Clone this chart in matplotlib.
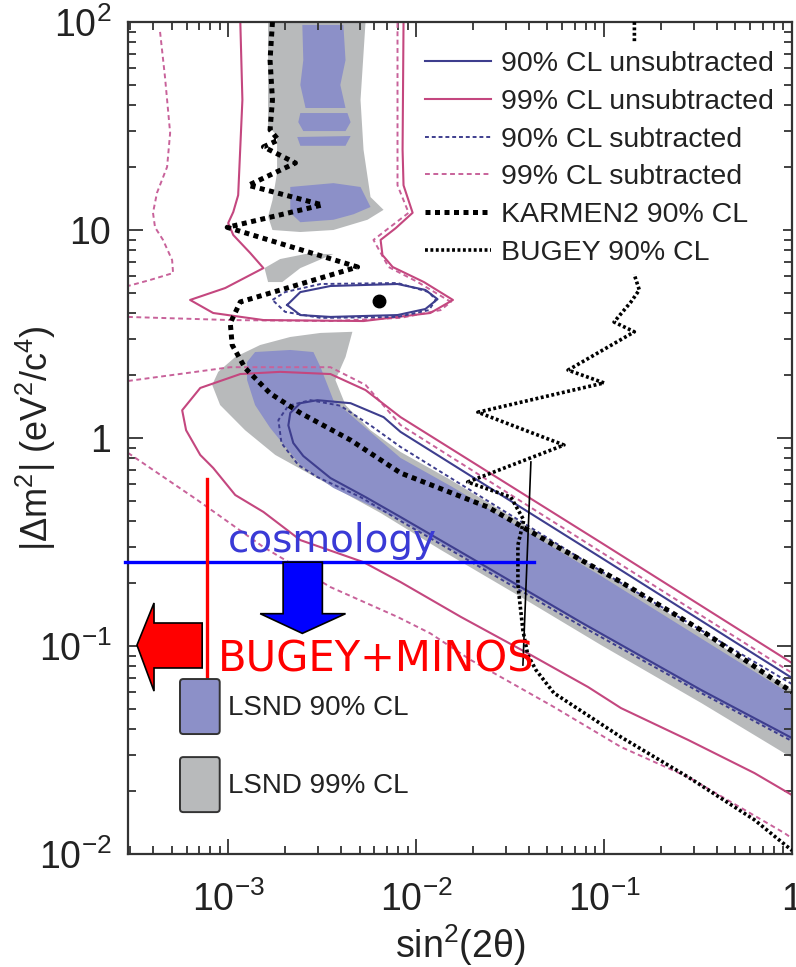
import numpy as np
import matplotlib
matplotlib.use("Agg")
import matplotlib.pyplot as plt
from matplotlib.patches import Patch, Polygon, FancyBboxPatch
from matplotlib.lines import Line2D
from matplotlib.legend_handler import HandlerPatch
from matplotlib.ticker import FixedLocator, FuncFormatter, LogLocator, NullFormatter

plt.rcParams['font.family'] = ['Liberation Sans', 'DejaVu Sans']
plt.rcParams['mathtext.fontset'] = 'custom'
plt.rcParams['mathtext.rm'] = 'Liberation Sans'
plt.rcParams['mathtext.it'] = 'Liberation Sans:italic'
plt.rcParams['mathtext.bf'] = 'Liberation Sans:bold'

# ---- LSND 99% CL (gray regions)
lsnd99_up_s2 = [1.63e-3, 1.63e-3, 1.82e-3, 1.82e-3, 1.72e-3, 1.63e-3, 1.72e-3, 2.42e-3,
                3.63e-3, 5.51e-3, 6.71e-3, 5.72e-3, 5.25e-3, 5.06e-3, 5.38e-3]
lsnd99_up_dm2 = [100, 31.3, 28.6, 18.8, 13.9, 11.6, 10.0, 9.78, 10.0, 11.2, 12.5, 14.4, 24.3, 42.2, 100]
lsnd99_mid_s2 = [1.56e-3, 1.89e-3, 2.58e-3, 3.63e-3, 2.42e-3, 1.94e-3, 1.63e-3]
lsnd99_mid_dm2 = [6.56, 7.25, 7.67, 7.67, 6.56, 5.62, 5.62]
lsnd99_lo_s2 = [1.0, 9.64e-2, 1.53e-2, 8.26e-3, 5.72e-3, 4.21e-3, 3.72e-3, 4.21e-3, 4.58e-3,
                3.10e-3, 2.14e-3, 1.48e-3, 1.09e-3, 8.85e-4, 8.22e-4, 9.06e-4, 1.23e-3, 1.78e-3,
                3.10e-3, 6.47e-3, 1.35e-2, 3.61e-2, 9.64e-2, 0.329, 1.0]
lsnd99_lo_dm2 = [0.0614, 0.229, 0.628, 0.857, 1.09, 1.44, 1.90, 2.45, 3.24, 3.20, 3.06, 2.80,
                 2.45, 2.08, 1.80, 1.44, 1.09, 0.829, 0.628, 0.436, 0.290, 0.172, 0.101, 0.0532, 0.029]

# ---- LSND 90% CL (blue regions)
lsnd90_up1_s2 = [2.48e-3, 4.10e-3, 4.21e-3, 3.95e-3, 4.21e-3, 2.58e-3, 2.42e-3, 2.51e-3]
lsnd90_up1_dm2 = [96.8, 96.8, 65.6, 49.8, 38.6, 38.6, 49.8, 65.6]
lsnd90_up2_s2 = [2.42e-3, 4.31e-3, 4.48e-3, 4.21e-3, 2.51e-3, 2.36e-3]
lsnd90_up2_dm2 = [36.5, 36.5, 33.0, 29.9, 29.9, 33.0]
lsnd90_up3_s2 = [2.33e-3, 4.48e-3, 4.21e-3, 2.42e-3]
lsnd90_up3_dm2 = [28.0, 28.3, 25.4, 25.4]
lsnd90_blob_s2 = [2.14e-3, 3.63e-3, 5.06e-3, 5.72e-3, 4.64e-3, 3.63e-3, 2.42e-3, 2.14e-3]
lsnd90_blob_dm2 = [16.1, 16.8, 16.1, 12.9, 11.9, 11.2, 10.9, 12.1]
lsnd90_lo_s2 = [1.0, 9.64e-2, 1.53e-2, 8.26e-3, 5.38e-3, 3.63e-3, 3.10e-3, 2.84e-3, 2.14e-3,
                1.39e-3, 1.26e-3, 1.26e-3, 1.39e-3, 1.67e-3, 2.42e-3, 3.63e-3, 8.26e-3,
                1.73e-2, 7.54e-2, 0.329, 1.0]
lsnd90_lo_dm2 = [0.0581, 0.217, 0.587, 0.802, 1.12, 1.52, 2.19, 2.59, 2.65, 2.59, 2.32, 1.90,
                 1.44, 1.12, 0.742, 0.575, 0.403, 0.274, 0.128, 0.0601, 0.0353]

# ---- 99% CL unsubtracted (pink solid)
p99u_up_s2 = [1.16e-3, 1.19e-3, 1.13e-3, 1.064e-3, 1.0e-3, 1.064e-3, 1.31e-3, 1.54e-3, 9.64e-4,
              6.27e-4, 8.32e-4, 1.54e-3, 5.25e-3, 1.19e-2, 1.57e-2, 1.10e-2, 7.50e-3, 6.62e-3,
              6.47e-3, 7.78e-3, 9.58e-3, 8.57e-3, 8.47e-3, 8.57e-3]
p99u_up_dm2 = [100, 42.2, 14.7, 12.2, 10.8, 9.46, 7.75, 6.56, 5.26, 4.61, 3.99, 3.69, 3.65, 3.99,
               4.61, 5.62, 6.64, 7.58, 8.96, 10.2, 12.1, 16.4, 24.3, 100]
p99u_lo_s2 = [1.0, 9.64e-2, 8.26e-3, 5.38e-3, 3.5e-3, 1.89e-3, 1.16e-3, 7.10e-4, 5.69e-4, 5.97e-4,
              7.10e-4, 8.32e-4, 1.09e-3, 1.54e-3, 2.42e-3, 5.25e-3, 8.26e-3, 1.73e-2, 4.08e-2,
              8.22e-2, 0.123, 0.281, 0.631, 1.0]
p99u_lo_dm2 = [0.0828, 0.314, 1.26, 1.70, 2.03, 2.08, 2.03, 1.74, 1.36, 1.09, 0.829, 0.718, 0.532,
               0.441, 0.323, 0.253, 0.203, 0.138, 0.0905, 0.0635, 0.0503, 0.0353, 0.0245, 0.0192]

# ---- 99% CL subtracted (pink dashed)
p99s_upL_s2 = [4.34e-4, 4.61e-4, 4.91e-4, 4.73e-4, 4.18e-4, 3.98e-4, 4.08e-4, 4.50e-4, 5.03e-4,
               5.09e-4, 3.84e-4, 2.93e-4]
p99s_upL_dm2 = [89.6, 54.4, 29.3, 20.1, 15.1, 12.1, 10.3, 8.96, 7.17, 6.21, 5.75, 5.38]
p99s_upR_s2 = [2.93e-4, 1.026e-3, 3.5e-3, 8.26e-3, 1.35e-2, 1.53e-2, 1.02e-2, 7.13e-3, 5.93e-3,
               9.12e-3, 7.96e-3, 7.96e-3]
p99s_upR_dm2 = [3.82, 3.69, 3.65, 3.78, 4.12, 4.51, 5.62, 6.64, 8.96, 12.1, 16.4, 100]
p99s_loA_s2 = [2.93e-4, 1.026e-3, 3.5e-3, 5.38e-3, 8.26e-3, 9.64e-2, 1.0]
p99s_loA_dm2 = [1.88, 2.19, 2.19, 1.80, 1.155, 0.283, 0.0742]
p99s_loB_s2 = [2.93e-4, 6.84e-4, 1.54e-3, 3.5e-3, 7.96e-3, 1.19e-2, 1.95e-2, 5.41e-2, 0.123,
               0.281, 0.912, 1.0]
p99s_loB_dm2 = [0.848, 0.504, 0.299, 0.192, 0.138, 0.115, 0.0857, 0.0509, 0.0327, 0.0234,
                0.0126, 0.0119]

# ---- 90% CL unsubtracted (navy solid)
b90u_oval_s2 = [2.06e-3, 2.42e-3, 3.5e-3, 7.96e-3, 1.12e-2, 1.30e-2, 1.12e-2, 7.96e-3, 3.5e-3,
                2.42e-3, 2.06e-3]
b90u_oval_dm2 = [4.36, 5.03, 5.38, 5.50, 5.15, 4.65, 4.17, 3.90, 3.82, 3.90, 4.36]
b90u_band_s2 = [1.0, 9.64e-2, 8.26e-3, 6.71e-3, 4.48e-3, 2.98e-3, 2.42e-3, 2.14e-3, 2.09e-3,
                2.22e-3, 2.51e-3, 3.5e-3, 5.38e-3, 8.26e-3, 1.73e-2, 3.61e-2, 7.54e-2, 0.329, 1.0]
b90u_band_dm2 = [0.0702, 0.266, 1.07, 1.26, 1.47, 1.52, 1.47, 1.32, 1.15, 0.946, 0.819, 0.642,
                 0.52, 0.417, 0.283, 0.192, 0.130, 0.0614, 0.0361]

# ---- 90% CL subtracted (navy dashed)
b90s_oval_s2 = [1.72e-3, 2.01e-3, 3.10e-3, 7.96e-3, 1.17e-2, 1.27e-2, 1.17e-2, 7.96e-3, 3.10e-3,
                2.01e-3, 1.72e-3]
b90s_oval_dm2 = [4.61, 5.03, 5.50, 5.56, 5.03, 4.61, 4.12, 3.82, 3.78, 4.04, 4.61]
b90s_band_s2 = [1.0, 9.64e-2, 8.26e-3, 5.72e-3, 3.95e-3, 2.74e-3, 2.09e-3, 1.85e-3, 1.92e-3,
                2.36e-3, 2.98e-3, 5.06e-3, 8.26e-3, 1.73e-2, 7.54e-2, 0.329, 1.0]
b90s_band_dm2 = [0.0656, 0.229, 0.906, 1.15, 1.43, 1.52, 1.43, 1.22, 0.946, 0.742, 0.649, 0.52,
                 0.399, 0.271, 0.125, 0.0594, 0.0349]

# ---- KARMEN2 and BUGEY 90% CL limits
karmen_s2 = [1.72e-3, 1.67e-3, 1.72e-3, 1.67e-3, 1.85e-3, 1.54e-3, 2.28e-3, 1.28e-3, 3.17e-3,
             9.88e-4, 4.88e-3, 1.16e-3, 1.026e-3, 1.05e-3, 1.23e-3, 1.67e-3, 2.42e-3, 4.48e-3,
             8.26e-3, 2.40e-2, 5.41e-2, 0.123, 0.329, 1.0]
karmen_dm2 = [100, 65.6, 42.2, 30.3, 27.1, 25.1, 21.0, 16.4, 13.2, 10.3, 6.64, 4.51, 3.57, 2.80,
              2.17, 1.64, 1.32, 0.977, 0.679, 0.466, 0.306, 0.203, 0.119, 0.0601]
bugey_s2 = [0.145, 0.145, 0.154, 0.139, 0.113, 0.145, 6.43e-2, 0.100, 2.13e-2, 6.12e-2, 1.88e-2,
            3.19e-2, 3.74e-2, 3.48e-2, 3.48e-2, 3.70e-2, 3.93e-2, 4.34e-2, 5.41e-2, 0.123,
            0.281, 0.631, 1.0]
bugey_dm2 = [100, 6.08, 5.15, 4.51, 3.61, 3.24, 2.12, 1.84, 1.33, 0.925, 0.614, 0.520, 0.403,
             0.306, 0.196, 0.119, 0.0905, 0.0767, 0.0594, 0.0365, 0.0234, 0.0146, 0.0104]
marker_line_s2 = [4.08e-2, 3.70e-2]
marker_line_dm2 = [0.767, 0.081]
best_fit = (6.31e-3, 4.56)

# ---- overlaid annotations
cosmo_dm2 = 0.253
cosmo_s2 = [2.82e-4, 4.24e-2]
cosmo_arrow_s2 = [1.96e-3, 3.17e-3, 3.17e-3, 4.21e-3, 2.48e-3, 1.48e-3, 1.96e-3]
cosmo_arrow_dm2 = [0.253, 0.253, 0.143, 0.143, 0.115, 0.143, 0.143]
bm_s2 = 7.73e-4
bm_dm2 = [0.0628, 0.635]
bm_arrow_s2 = [7.27e-4, 4.03e-4, 4.03e-4, 3.27e-4, 4.03e-4, 4.03e-4, 7.27e-4]
bm_arrow_dm2 = [0.129, 0.129, 0.161, 0.101, 0.0607, 0.0784, 0.0784]

NAVY = '#3e3e8e'
PINK = '#c4477f'
PINK_D = '#c8629a'
BLUE_F = '#8c90c8'
GRAY_F = '#b8babb'

fig = plt.figure(figsize=(7.96, 9.67), dpi=100)
ax = fig.add_axes([128 / 796, 1 - 854 / 967, 664 / 796, 832 / 967])
ax.set_xscale('log')
ax.set_yscale('log')

for xs, ys in [(lsnd99_up_s2, lsnd99_up_dm2), (lsnd99_mid_s2, lsnd99_mid_dm2),
               (lsnd99_lo_s2, lsnd99_lo_dm2)]:
    ax.fill(xs, ys, color=GRAY_F, lw=0, zorder=1)
for xs, ys in [(lsnd90_up1_s2, lsnd90_up1_dm2), (lsnd90_up2_s2, lsnd90_up2_dm2),
               (lsnd90_up3_s2, lsnd90_up3_dm2), (lsnd90_blob_s2, lsnd90_blob_dm2),
               (lsnd90_lo_s2, lsnd90_lo_dm2)]:
    ax.fill(xs, ys, color=BLUE_F, lw=0, zorder=1.5)

ax.plot(p99s_upL_s2, p99s_upL_dm2, color=PINK_D, lw=1.4, ls=(0, (2.5, 1.8)), zorder=2)
ax.plot(p99s_upR_s2, p99s_upR_dm2, color=PINK_D, lw=1.4, ls=(0, (2.5, 1.8)), zorder=2)
ax.plot(p99s_loA_s2, p99s_loA_dm2, color=PINK_D, lw=1.4, ls=(0, (2.5, 1.8)), zorder=2)
ax.plot(p99s_loB_s2, p99s_loB_dm2, color=PINK_D, lw=1.4, ls=(0, (2.5, 1.8)), zorder=2)
ax.plot(p99u_up_s2, p99u_up_dm2, color=PINK, lw=1.5, zorder=2)
ax.plot(p99u_lo_s2, p99u_lo_dm2, color=PINK, lw=1.5, zorder=2)
ax.plot(b90s_oval_s2, b90s_oval_dm2, color=NAVY, lw=1.4, ls=(0, (2, 1.5)), zorder=2)
ax.plot(b90s_band_s2, b90s_band_dm2, color=NAVY, lw=1.4, ls=(0, (2, 1.5)), zorder=2)
ax.plot(b90u_oval_s2, b90u_oval_dm2, color=NAVY, lw=1.5, zorder=2)
ax.plot(b90u_band_s2, b90u_band_dm2, color=NAVY, lw=1.5, zorder=2)
ax.plot(karmen_s2, karmen_dm2, color='black', lw=3.6, ls=(0, (1, 0.9)), zorder=3)
ax.plot(bugey_s2, bugey_dm2, color='black', lw=2.6, ls=(0, (0.8, 0.7)), zorder=3)
ax.plot(marker_line_s2, marker_line_dm2, color='black', lw=1.2, zorder=3)
ax.plot([best_fit[0]], [best_fit[1]], marker='o', ms=9, color='black', zorder=3)

# annotations
ax.plot(cosmo_s2, [cosmo_dm2, cosmo_dm2], color='#0000ff', lw=2.4, zorder=5, clip_on=False)
ax.add_patch(Polygon(list(zip(cosmo_arrow_s2, cosmo_arrow_dm2)), closed=True,
                     facecolor='#0000ff', edgecolor='black', lw=1.2, zorder=5))
ax.text(1.0e-3, 0.283, 'cosmology', color='#3a3ad6', fontsize=28,
        family='DejaVu Sans', va='baseline', ha='left', zorder=6)
ax.plot([bm_s2, bm_s2], bm_dm2, color='#ff0000', lw=2.4, zorder=5)
ax.add_patch(Polygon(list(zip(bm_arrow_s2, bm_arrow_dm2)), closed=True,
                     facecolor='#ff0000', edgecolor='black', lw=1.2, zorder=4.5))
ax.text(8.85e-4, 0.075, 'BUGEY+MINOS', color='#ff0000', fontsize=30,
        family='DejaVu Sans', va='baseline', ha='left', zorder=6)

ax.set_xlim(2.93e-4, 1.0)
ax.set_ylim(1e-2, 1e2)


def log_label(v, pos):
    e = int(round(np.log10(v)))
    if e == 0:
        return '1'
    if e == 1:
        return '10'
    return r'$\mathregular{10^{%d}}$' % e


ax.xaxis.set_major_locator(FixedLocator([1e-3, 1e-2, 1e-1, 1]))
ax.yaxis.set_major_locator(FixedLocator([1e-2, 1e-1, 1, 10, 100]))
ax.xaxis.set_major_formatter(FuncFormatter(log_label))
ax.yaxis.set_major_formatter(FuncFormatter(log_label))
for a in (ax.xaxis, ax.yaxis):
    a.set_minor_locator(LogLocator(base=10, subs=np.arange(2, 10)))
    a.set_minor_formatter(NullFormatter())
ax.tick_params(which='both', direction='in', top=True, right=True, colors='#333333',
               labelcolor='#222222', labelsize=27, width=1.3)
ax.tick_params(which='major', length=11)
ax.tick_params(which='minor', length=6)
ax.tick_params(axis='x', pad=20)
ax.tick_params(axis='y', pad=12)
for s in ax.spines.values():
    s.set_linewidth(1.6)
    s.set_color('#333333')

ax.set_xlabel(r'$\mathregular{sin^2(2θ)}$', fontsize=27, color='#222222')
ax.set_ylabel(r'$\mathregular{|Δm^2|\ (eV^2/c^4)}$', fontsize=26, color='#222222')
ax.xaxis.set_label_coords(0.5, -0.082)
ax.xaxis.label.set_va('top')
ax.yaxis.set_label_coords(-0.105, 0.5)

line_handles = [
    Line2D([], [], color=NAVY, lw=1.5),
    Line2D([], [], color=PINK, lw=1.5),
    Line2D([], [], color=NAVY, lw=1.4, ls=(0, (2, 1.5))),
    Line2D([], [], color=PINK_D, lw=1.4, ls=(0, (2.5, 1.8))),
    Line2D([], [], color='black', lw=3.6, ls=(0, (1, 0.9))),
    Line2D([], [], color='black', lw=2.6, ls=(0, (0.8, 0.7))),
]
line_labels = ['90% CL unsubtracted', '99% CL unsubtracted', '90% CL subtracted',
               '99% CL subtracted', 'KARMEN2 90% CL', 'BUGEY 90% CL']
leg1 = ax.legend(line_handles, line_labels, loc='upper left', bbox_to_anchor=(0.435, 0.975),
                 fontsize=20.5, frameon=True, facecolor='white', edgecolor='none', framealpha=1,
                 fancybox=False, borderpad=0.3, borderaxespad=0, handlelength=2.3,
                 handletextpad=0.36, labelspacing=0.41, labelcolor='#222222')
leg1.set_zorder(7)
ax.add_artist(leg1)


class RoundedBox(HandlerPatch):
    def create_artists(self, legend, orig_handle, xdescent, ydescent, width, height,
                       fontsize, trans):
        p = FancyBboxPatch((-xdescent, -ydescent), width, height,
                           boxstyle='round,pad=0,rounding_size=%f' % (0.12 * fontsize))
        self.update_prop(p, orig_handle, legend)
        p.set_transform(trans)
        return [p]


fill_handles = [Patch(facecolor=BLUE_F, edgecolor='#333333', lw=1.4),
                Patch(facecolor=GRAY_F, edgecolor='#333333', lw=1.4)]
leg2 = ax.legend(fill_handles, ['LSND 90% CL', 'LSND 99% CL'], loc='upper left',
                 bbox_to_anchor=(0.0783, 0.2103), fontsize=20, frameon=False, borderpad=0,
                 borderaxespad=0, handlelength=1.43, handleheight=2.67, handletextpad=0.3,
                 labelspacing=0.83, labelcolor='#222222',
                 handler_map={Patch: RoundedBox()})
leg2.set_zorder(7)

fig.savefig('out.png', dpi=100)
